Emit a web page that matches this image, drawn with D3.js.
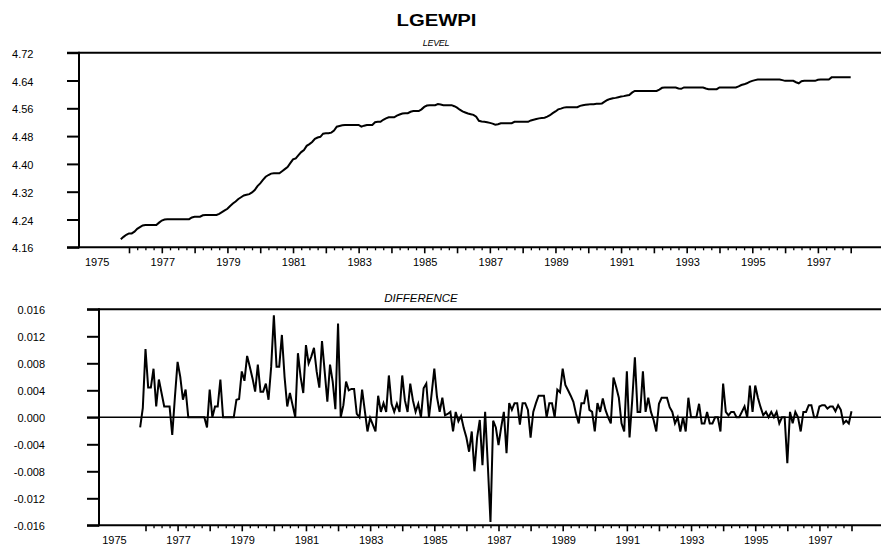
<!DOCTYPE html>
<html><head><meta charset="utf-8">
<script src="https://cdn.jsdelivr.net/npm/d3@7"></script>
<style>
body{margin:0;background:#fff}
svg{display:block}
text{font-family:"Liberation Sans",Arial,Helvetica,sans-serif;fill:#000}
</style>
</head><body>
<svg id="chart" width="881" height="545"></svg>
<script>
// ---------------- data ----------------
const chartTitle = "LGEWPI";
const levelTitle = "LEVEL";
const diffTitle = "DIFFERENCE";

// monthly level series, first observation 1975:10
const levelStart = [1975, 10];
const levelValues = [
  4.183, 4.190, 4.196,
  4.200, 4.200, 4.205, 4.213, 4.218, 4.223, 4.224, 4.224, 4.224, 4.224, 4.224, 4.231,
  4.237, 4.240, 4.241, 4.241, 4.241, 4.241, 4.241, 4.241, 4.241, 4.241, 4.241, 4.246,
  4.248, 4.248, 4.248, 4.252, 4.253, 4.253, 4.253, 4.253, 4.253, 4.256, 4.261, 4.266,
  4.271, 4.279, 4.286, 4.292, 4.299, 4.304, 4.309, 4.311, 4.313, 4.318, 4.325, 4.336,
  4.344, 4.354, 4.363, 4.368, 4.372, 4.373, 4.373, 4.373, 4.379, 4.385, 4.391, 4.402,
  4.413, 4.416, 4.425, 4.434, 4.440, 4.452, 4.457, 4.463, 4.472, 4.476, 4.478, 4.487,
  4.488, 4.488, 4.490, 4.496, 4.507, 4.509, 4.511, 4.512, 4.512, 4.512, 4.512, 4.512,
  4.512, 4.507, 4.510, 4.512, 4.512, 4.512, 4.520, 4.521, 4.521, 4.527, 4.531, 4.534,
  4.534, 4.534, 4.539, 4.542, 4.545, 4.546, 4.546, 4.550, 4.552, 4.552, 4.552, 4.557,
  4.564, 4.568, 4.569, 4.569, 4.569, 4.572, 4.571, 4.569, 4.569, 4.569, 4.569, 4.566,
  4.562, 4.556, 4.551, 4.548, 4.545, 4.543, 4.541, 4.536, 4.524, 4.522, 4.521, 4.520,
  4.518, 4.516, 4.513, 4.514, 4.517, 4.517, 4.517, 4.517, 4.517, 4.521, 4.521, 4.521,
  4.521, 4.521, 4.521, 4.525, 4.527, 4.529, 4.531, 4.532, 4.533, 4.536, 4.540, 4.546,
  4.551, 4.557, 4.559, 4.562, 4.563, 4.563, 4.563, 4.563, 4.563, 4.567, 4.569, 4.570,
  4.571, 4.572, 4.572, 4.573, 4.573, 4.574, 4.579, 4.584, 4.587, 4.589, 4.590, 4.592,
  4.594, 4.595, 4.597, 4.598, 4.605, 4.610, 4.610, 4.610, 4.610, 4.610, 4.610, 4.610,
  4.610, 4.610, 4.614, 4.619, 4.620, 4.620, 4.620, 4.620, 4.620, 4.617, 4.616, 4.620,
  4.620, 4.620, 4.620, 4.620, 4.620, 4.620, 4.620, 4.617, 4.615, 4.615, 4.615, 4.615,
  4.620, 4.620, 4.620, 4.620, 4.620, 4.620, 4.620, 4.623, 4.627, 4.629, 4.632, 4.636,
  4.639, 4.641, 4.643, 4.643, 4.643, 4.643, 4.643, 4.643, 4.643, 4.643, 4.643, 4.641,
  4.639, 4.639, 4.639, 4.639, 4.635, 4.632, 4.638, 4.639, 4.639, 4.639, 4.639, 4.639,
  4.642, 4.643, 4.643, 4.643, 4.643, 4.649, 4.649, 4.649, 4.649, 4.649, 4.649, 4.649,
  4.649
];

// monthly first difference, first observation 1975:11
const diffStart = [1975, 11];
const diffValues = [
  -0.0015, 0.0014,
  0.0101, 0.0044, 0.0044, 0.0072, 0.0016, 0.0056, 0.0036, 0.0016, 0.0016, 0.0016, -0.0026, 0.0030,
  0.0082, 0.0060, 0.0026, 0.0041, 0.0000, 0.0000, 0.0000, 0.0000, 0.0000, 0.0000, 0.0000, -0.0015,
  0.0041, 0.0000, 0.0016, 0.0016, 0.0056, 0.0000, 0.0000, 0.0000, 0.0000, 0.0000, 0.0026, 0.0027,
  0.0068, 0.0054, 0.0091, 0.0075, 0.0058, 0.0038, 0.0078, 0.0038, 0.0038, 0.0050, 0.0026, 0.0075,
  0.0151, 0.0075, 0.0075, 0.0122, 0.0060, 0.0016, 0.0036, 0.0018, 0.0000, 0.0095, 0.0060, 0.0036,
  0.0107, 0.0080, 0.0090, 0.0103, 0.0068, 0.0044, 0.0113, 0.0068, 0.0023, 0.0078, 0.0053, 0.0012,
  0.0139, 0.0000, 0.0018, 0.0053, 0.0040, 0.0042, 0.0042, 0.0005, 0.0000, 0.0041, 0.0010, -0.0021,
  -0.0001, -0.0011, -0.0021, 0.0032, 0.0008, 0.0021, 0.0008, 0.0062, 0.0020, 0.0008, 0.0020, 0.0008,
  0.0062, 0.0025, 0.0008, 0.0050, 0.0025, 0.0008, 0.0020, 0.0000, 0.0043, 0.0050, 0.0000, 0.0035,
  0.0072, 0.0030, 0.0008, 0.0029, 0.0003, 0.0005, 0.0008, -0.0021, 0.0008, -0.0006, 0.0002, -0.0016,
  -0.0030, -0.0051, -0.0021, -0.0080, -0.0030, -0.0004, -0.0071, 0.0008, -0.0070, -0.0155, -0.0005, -0.0015,
  -0.0041, -0.0015, 0.0008, -0.0053, 0.0021, 0.0011, 0.0021, 0.0021, -0.0011, 0.0021, 0.0021, 0.0011,
  -0.0030, 0.0008, 0.0021, 0.0032, 0.0032, 0.0032, 0.0000, 0.0021, 0.0021, 0.0000, 0.0041, 0.0037,
  0.0072, 0.0048, 0.0040, 0.0032, 0.0023, 0.0005, -0.0009, 0.0021, 0.0021, 0.0041, 0.0011, 0.0008,
  -0.0021, 0.0021, 0.0008, 0.0028, 0.0011, 0.0000, -0.0009, 0.0059, 0.0045, 0.0029, -0.0009, -0.0021,
  0.0068, -0.0030, 0.0025, 0.0089, 0.0008, 0.0008, 0.0068, 0.0008, 0.0029, 0.0008, -0.0004, -0.0021,
  0.0020, 0.0029, 0.0029, 0.0029, 0.0015, 0.0008, -0.0009, 0.0000, -0.0021, 0.0000, -0.0021, 0.0029,
  0.0000, 0.0000, 0.0000, 0.0020, -0.0009, -0.0009, 0.0008, -0.0009, -0.0009, 0.0000, 0.0000, -0.0021,
  0.0050, 0.0008, 0.0003, 0.0008, 0.0008, 0.0000, 0.0000, 0.0008, 0.0016, 0.0000, 0.0047, 0.0008,
  0.0047, 0.0029, 0.0015, 0.0003, 0.0008, 0.0000, 0.0008, 0.0000, 0.0008, -0.0009, 0.0000, 0.0000,
  -0.0068, 0.0008, -0.0009, 0.0008, 0.0000, -0.0021, 0.0008, 0.0008, 0.0018, 0.0018, 0.0000, 0.0000,
  0.0016, 0.0018, 0.0018, 0.0013, 0.0016, 0.0016, 0.0009, 0.0018, 0.0011, -0.0009, -0.0005, -0.0009,
  0.0009
];

const yearLabels = ["1975","1977","1979","1981","1983","1985","1987","1989","1991","1993","1995","1997"];
const yearTicks = [1976,1977,1978,1979,1980,1981,1982,1983,1984,1985,1986,1987,1988,1989,1990,1991,1992,1993,1994,1995,1996,1997,1998];
const levelTicks = [4.16, 4.24, 4.32, 4.40, 4.48, 4.56, 4.64, 4.72];
const diffTicks = [-0.016, -0.012, -0.008, -0.004, 0.000, 0.004, 0.008, 0.012, 0.016];

// ---------------- drawing ----------------
const svg = d3.select("#chart");
const W = 881;

function toSeries(start, values) {
  return values.map((v, i) => ({ t: start[0] + (start[1] - 1 + i) / 12, v: v }));
}

function drawPanel(cfg) {
  const g = svg.append("g");
  const x = d3.scaleLinear().domain([1976, 1998]).range(cfg.xRange);
  const y = d3.scaleLinear().domain(cfg.yDomain).range([cfg.bottom, cfg.top]);

  // y axis with long outward ticks
  const yAxis = d3.axisLeft(y).tickValues(cfg.yTicks).tickSize(cfg.axisX - cfg.tickStart)
    .tickPadding(cfg.labelPad).tickFormat(cfg.fmt);
  const ya = g.append("g").attr("transform", `translate(${cfg.axisX},0)`).call(yAxis);
  ya.select(".domain").remove();
  ya.selectAll(".tick line").attr("stroke", "#000").attr("stroke-width", 2);
  ya.selectAll(".tick text").attr("font-size", 11).attr("fill", "#000")
    .attr("font-family", '"Liberation Sans", Arial, sans-serif').attr("dy", "0.42em");

  // vertical axis line
  g.append("line").attr("x1", cfg.axisX).attr("x2", cfg.axisX)
    .attr("y1", cfg.top - 1).attr("y2", cfg.bottom + 1)
    .attr("stroke", "#000").attr("stroke-width", 2);
  // top frame line and bottom axis line (full width)
  [cfg.top, cfg.bottom].forEach(yy => {
    g.append("line").attr("x1", cfg.tickStart).attr("x2", W).attr("y1", yy).attr("y2", yy)
      .attr("stroke", "#000").attr("stroke-width", 2);
  });
  if (cfg.zeroLine) {
    g.append("line").attr("x1", cfg.tickStart).attr("x2", W).attr("y1", y(0)).attr("y2", y(0))
      .attr("stroke", "#000").attr("stroke-width", 1.6);
  }

  // x axis: yearly ticks and quarterly minor ticks
  const xAxisMajor = d3.axisBottom(x).tickValues(yearTicks).tickSize(6).tickFormat("");
  const xa = g.append("g").attr("transform", `translate(0,${cfg.bottom})`).call(xAxisMajor);
  xa.select(".domain").remove();
  xa.selectAll(".tick line").attr("stroke", "#000").attr("stroke-width", 1.6);
  const minors = [];
  yearTicks.slice(0, -1).forEach(yr => [0.25, 0.5, 0.75].forEach(q => minors.push(yr + q)));
  const xAxisMinor = d3.axisBottom(x).tickValues(minors).tickSize(3).tickFormat("");
  const xm = g.append("g").attr("transform", `translate(0,${cfg.bottom})`).call(xAxisMinor);
  xm.select(".domain").remove();
  xm.selectAll(".tick line").attr("stroke", "#000").attr("stroke-width", 1.3);

  g.selectAll("text.xl").data(yearLabels).join("text").attr("class", "xl")
    .attr("x", d => x(+d) + 1).attr("y", cfg.bottom + 19)
    .attr("text-anchor", "middle").attr("font-size", 11).text(d => d);

  // panel subtitle
  g.append("text").attr("x", cfg.subX).attr("y", cfg.subY).attr("text-anchor", "middle")
    .attr("font-style", "italic").attr("font-size", cfg.subSize)
    .attr("letter-spacing", cfg.subSpacing).text(cfg.subtitle);

  // data line
  const line = d3.line().x(d => x(d.t)).y(d => y(d.v));
  g.append("path").datum(cfg.series).attr("d", line)
    .attr("fill", "none").attr("stroke", "#000").attr("stroke-width", 2)
    .attr("stroke-linejoin", "miter");
}

// title
svg.append("text").attr("x", 436.5).attr("y", 26).attr("text-anchor", "middle")
  .attr("font-weight", "bold").attr("font-size", 16)
  .attr("textLength", 80).attr("lengthAdjust", "spacingAndGlyphs").text(chartTitle);

drawPanel({
  axisX: 79, tickStart: 67, top: 52.7, bottom: 247.3,
  xRange: [129, 850.7], yDomain: [4.16, 4.72], yTicks: levelTicks,
  fmt: d3.format(".2f"), labelPad: 33.5,
  subtitle: levelTitle, subX: 436, subY: 46, subSize: 9, subSpacing: -0.3,
  series: toSeries(levelStart, levelValues), zeroLine: false
});

drawPanel({
  axisX: 99, tickStart: 87, top: 309.3, bottom: 525.3,
  xRange: [145.5, 851.5], yDomain: [-0.016, 0.016], yTicks: diffTicks,
  fmt: d => d3.format(".3f")(d).replace("\u2212", "-"), labelPad: 42,
  subtitle: diffTitle, subX: 421, subY: 302, subSize: 11.5, subSpacing: 0,
  series: toSeries(diffStart, diffValues), zeroLine: true
});
</script>
</body></html>
